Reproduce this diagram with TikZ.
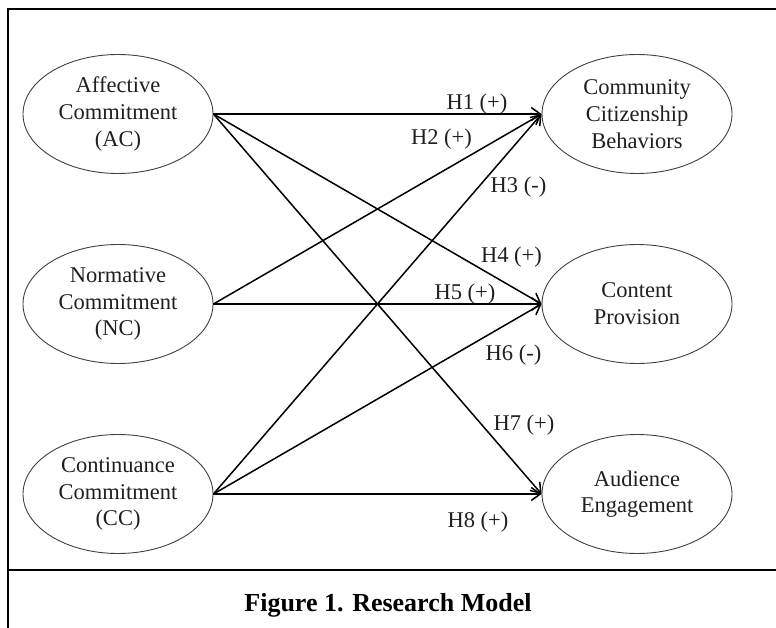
\documentclass[tikz,border=0pt]{standalone}
\usepackage{fontspec}
\setmainfont{Liberation Serif}
\usetikzlibrary{shapes.geometric,arrows.meta}
\begin{document}
\begin{tikzpicture}[x=1pt,y=-1pt,
  construct/.style={ellipse,draw=black!75,line width=0.9pt,minimum width=190pt,minimum height=119pt,inner sep=0pt,align=center,font=\fontsize{22.5}{26.7}\selectfont,text=black!88},
  hyp/.style={anchor=base,inner sep=0pt,font=\fontsize{22.5}{26.7}\selectfont,text=black!88},
  causal/.style={line width=1.5pt,-{Straight Barb[length=9pt,width=13pt,line width=1.5pt]}},
  framerule/.style={line width=2.8pt}]
\useasboundingbox (0,0) rectangle (776,628);
% frame
\coordinate (ftr) at (776,9);
\coordinate (ftl) at (8,9);
\coordinate (fbl) at (8,628);
\coordinate (sepl) at (8,570);
\coordinate (sepr) at (776,570);
\draw[framerule] (ftr) -- (ftl) -- (fbl);
\draw[framerule] (sepl) -- (sepr);
\node[anchor=base,inner sep=0pt,font=\bfseries\fontsize{26}{30}\selectfont] (cap) at (388,611) {Figure 1. Research Model};
% constructs
\node[construct] (ac) at (118,114) {Affective\\Commitment\\(AC)};
\node[construct] (nc) at (118,304) {Normative\\Commitment\\(NC)};
\node[construct] (cc) at (118,494) {Continuance\\Commitment\\(CC)};
\node[construct] (ccb) at (637,114) {Community\\Citizenship\\Behaviors};
\node[construct] (cp) at (637,304) {Content\\Provision};
\node[construct] (ae) at (637,494) {Audience\\Engagement};
% paths
\draw[causal] (ac.east) -- (ccb.west);
\draw[causal] (ac.east) -- (cp.west);
\draw[causal] (ac.east) -- (ae.west);
\draw[causal] (nc.east) -- (ccb.west);
\draw[causal] (nc.east) -- (cp.west);
\draw[causal] (cc.east) -- (ccb.west);
\draw[causal] (cc.east) -- (cp.west);
\draw[causal] (cc.east) -- (ae.west);
% labels
\node[hyp] (h1) at (477,110) {H1 (+)};
\node[hyp] (h2) at (441.5,145) {H2 (+)};
\node[hyp] (h3) at (518.5,193) {H3 (-)};
\node[hyp] (h4) at (511.5,262) {H4 (+)};
\node[hyp] (h5) at (465,299) {H5 (+)};
\node[hyp] (h6) at (513.5,360) {H6 (-)};
\node[hyp] (h7) at (524,430) {H7 (+)};
\node[hyp] (h8) at (478,527) {H8 (+)};
\end{tikzpicture}
\end{document}
